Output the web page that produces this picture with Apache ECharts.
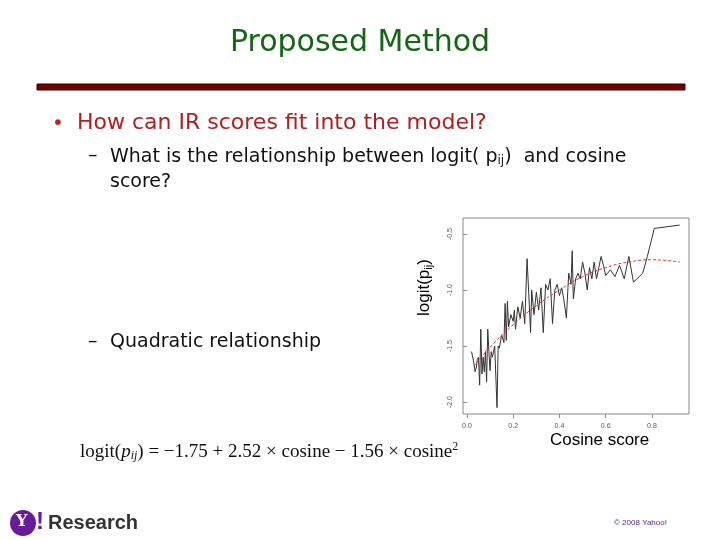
<!DOCTYPE html>
<html><head><meta charset="utf-8">
<script src="https://cdn.jsdelivr.net/npm/echarts@6/dist/echarts.min.js"></script>
<style>html,body{margin:0;padding:0;background:#fff}#c{width:720px;height:540px}</style>
</head><body><div id="c"></div>
<script>
const xTicks = [0, 0.2, 0.4, 0.6, 0.8];
const yTicks = [-2.0, -1.5, -1.0, -0.5];
const observed = [
[0.02,-1.55],[0.03,-1.65],[0.035,-1.73],[0.04,-1.70],[0.045,-1.62],[0.05,-1.60],[0.055,-1.85],[0.06,-1.35],[0.065,-1.75],[0.07,-1.60],[0.075,-1.73],[0.08,-1.55],[0.085,-1.82],[0.09,-1.35],[0.095,-1.55],[0.10,-1.72],[0.105,-1.55],[0.11,-1.60],[0.12,-1.50],[0.13,-2.05],[0.135,-1.50],[0.14,-1.52],[0.15,-1.40],[0.16,-1.47],[0.165,-1.12],[0.17,-1.45],[0.175,-1.10],[0.18,-1.33],[0.19,-1.22],[0.20,-1.28],[0.205,-1.18],[0.21,-1.35],[0.22,-1.15],[0.23,-1.25],[0.24,-1.10],[0.25,-1.30],[0.26,-0.72],[0.27,-1.15],[0.275,-1.38],[0.28,-1.00],[0.29,-1.22],[0.30,-1.02],[0.31,-1.18],[0.32,-0.98],[0.33,-1.38],[0.34,-0.95],[0.35,-1.00],[0.36,-0.90],[0.37,-1.30],[0.38,-1.00],[0.39,-0.95],[0.40,-1.05],[0.41,-0.98],[0.42,-1.10],[0.43,-1.25],[0.44,-0.85],[0.45,-0.95],[0.455,-0.65],[0.46,-1.08],[0.47,-0.90],[0.48,-0.85],[0.49,-0.90],[0.50,-0.75],[0.51,-0.85],[0.52,-1.00],[0.53,-0.80],[0.54,-0.90],[0.55,-0.75],[0.56,-0.90],[0.57,-0.80],[0.58,-0.70],[0.59,-0.78],[0.60,-0.87],[0.62,-0.82],[0.64,-0.88],[0.66,-0.78],[0.68,-0.90],[0.70,-0.70],[0.72,-0.93],[0.76,-0.85],[0.78,-0.70],[0.81,-0.45],[0.92,-0.42]];
const fitted = [[0.03,-1.68],[0.1,-1.51],[0.2,-1.31],[0.3,-1.14],[0.4,-1.00],[0.5,-0.88],[0.6,-0.80],[0.7,-0.75],[0.8,-0.73],[0.92,-0.75]];

const chart = echarts.init(document.getElementById('c'));
const F = 'DejaVu Sans, Verdana, sans-serif';
const A = 'Liberation Sans, Arial, sans-serif';
const S = 'Liberation Serif, serif';
chart.setOption({
  animation:false,
  grid:{left:463,right:31,top:218,height:196,show:true,borderColor:'#888',borderWidth:1,backgroundColor:'transparent'},
  xAxis:{type:'value',min:-0.017,max:0.96,splitLine:{show:false},
    axisLine:{show:false},
    axisTick:{show:true,customValues:xTicks,length:4,lineStyle:{color:'#888'}},
    axisLabel:{customValues:xTicks,formatter:v=>v.toFixed(1),fontSize:7,color:'#555',margin:9}},
  yAxis:{type:'value',min:-2.107,max:-0.357,splitLine:{show:false},
    axisLine:{show:false},
    axisTick:{show:true,customValues:yTicks,length:4,lineStyle:{color:'#888'}},
    axisLabel:{customValues:yTicks,formatter:v=>v.toFixed(1),fontSize:7,color:'#555',rotate:90,margin:9}},
  series:[
    {type:'line',data:observed,showSymbol:false,lineStyle:{color:'#333',width:1}},
    {type:'line',data:fitted,showSymbol:false,smooth:true,lineStyle:{color:'#e03030',width:1,type:[3,2]}}
  ],
  graphic:[
    {type:'text',left:'center',top:28,style:{text:'Proposed Method',font:'30px '+F,fill:'#146614'}},
    {type:'rect',shape:{x:37,y:84,width:648,height:6},style:{fill:'#6e0303',stroke:'#3a0000',lineWidth:1}},
    {type:'text',x:52,y:114,style:{text:'•',font:'20px '+F,fill:'#c02020'}},
    {type:'text',x:77,y:112,style:{text:'How can IR scores fit into the model?',font:'22px '+F,fill:'#b02020'}},
    {type:'text',x:88,y:147,style:{text:'–',font:'19px '+F,fill:'#111'}},
    {type:'text',x:110,y:147,style:{font:'19px '+F,fill:'#111',rich:{n:{font:'19px '+F,fill:'#111'},s:{font:'12px '+F,fill:'#111',padding:[8,0,0,0]}},
      text:'{n|What is the relationship between logit( p}{s|ij}{n|)  and cosine}'}},
    {type:'text',x:110,y:173,style:{text:'score?',font:'19px '+F,fill:'#111'}},
    {type:'text',x:88,y:333,style:{text:'–',font:'19px '+F,fill:'#111'}},
    {type:'text',x:110,y:333,style:{text:'Quadratic relationship',font:'19px '+F,fill:'#111'}},
    {type:'text',x:415,y:316,rotation:Math.PI/2,style:{font:'17px '+A,rich:{n:{font:'17px '+A,fill:'#000'},s:{font:'11px '+A,fill:'#000',padding:[8,0,0,0]}},
      text:'{n|logit(p}{s|ij}{n|)}',fill:'#000'}},
    {type:'text',x:550,y:432,style:{text:'Cosine score',font:'17px '+A,fill:'#000'}},
    {type:'text',x:80,y:441,style:{font:'19px '+S,rich:{n:{font:'19px '+S,fill:'#111'},i:{font:'italic 19px '+S,fill:'#111'},s:{font:'italic 12px '+S,fill:'#111',padding:[8,0,0,0]},p:{font:'12px '+S,fill:'#111',padding:[0,0,10,0]}},
      text:'{n|logit(}{i|p}{s|ij}{n|) = −1.75 + 2.52 × cosine − 1.56 × cosine}{p|2}',fill:'#111'}},
    {type:'circle',shape:{cx:23,cy:523,r:13},style:{fill:'#6a1b9a'}},
    {type:'text',x:16,y:514,style:{text:'Y',font:'bold 16px DejaVu Serif, serif',fill:'#fff'}},
    {type:'text',x:36,y:510,style:{text:'!',font:'bold 24px '+A,fill:'#6a1b9a'}},
    {type:'text',x:48,y:513,style:{text:'Research',font:'bold 20px '+A,fill:'#333'}},
    {type:'text',x:614,y:519,style:{text:'© 2008 Yahoo!',font:'8px '+A,fill:'#5a1a8a'}}
  ]
});
</script></body></html>
